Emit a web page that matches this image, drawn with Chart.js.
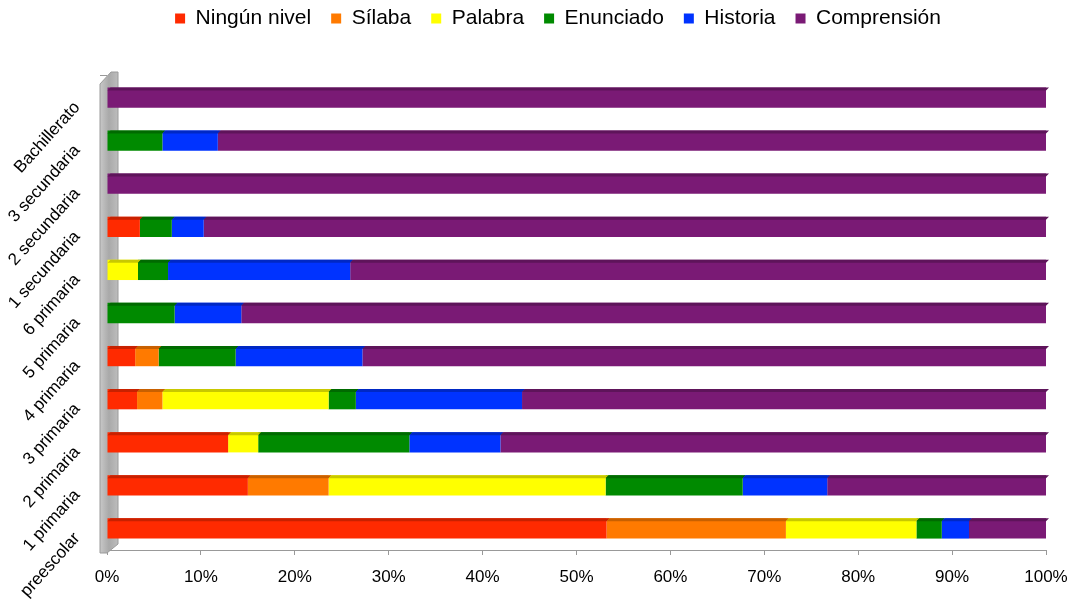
<!DOCTYPE html>
<html>
<head>
<meta charset="utf-8">
<script src="https://cdn.jsdelivr.net/npm/chart.js@4.4.0/dist/chart.umd.min.js"></script>
<style>
  body { margin: 0; background: #fff; }
  #wrap { width: 1071px; height: 604px; }
</style>
</head>
<body>
<div id="wrap"><canvas id="nivelesChart" width="1071" height="604"></canvas></div>
<script>
// categories, bottom to top as in the picture
const grados = ['preescolar', '1 primaria', '2 primaria', '3 primaria', '4 primaria', '5 primaria',
  '6 primaria', '1 secundaria', '2 secundaria', '3 secundaria', 'Bachillerato'];

const ningunNivel = [53.2, 15.0, 12.9, 3.2, 3.0, 0, 0, 3.5, 0, 0, 0];
const silaba      = [19.1, 8.6, 0, 2.7, 2.5, 0, 0, 0, 0, 0, 0];
const palabra     = [13.9, 29.5, 3.2, 17.7, 0, 0, 3.3, 0, 0, 0, 0];
const enunciado   = [2.7, 14.6, 16.1, 2.9, 8.2, 7.2, 3.2, 3.4, 0, 5.9, 0];
const historia    = [2.9, 9.0, 9.7, 17.7, 13.5, 7.1, 19.4, 3.4, 0, 5.9, 0];
const comprension = [8.2, 23.3, 58.1, 55.8, 72.8, 85.7, 74.1, 89.7, 100, 88.2, 100];

const xTicks = [0, 10, 20, 30, 40, 50, 60, 70, 80, 90, 100];

function serie(label, data, color, top, radius) {
  return {
    label: label,
    data: data,
    backgroundColor: color,
    topColor: top,
    borderWidth: 0,
    borderRadius: radius || 0,
    borderSkipped: false,
    barPercentage: 0.47,
    categoryPercentage: 1
  };
}

// grey side wall + darker top strip on each bar (the 3D look)
const wall3d = {
  id: 'wall3d',
  beforeDatasetsDraw(chart) {
    const ctx = chart.ctx, a = chart.chartArea;
    ctx.save();
    const g = ctx.createLinearGradient(a.left - 7, 0, a.left + 11, 0);
    g.addColorStop(0, '#c8c8c8');
    g.addColorStop(0.5, '#a9a9a9');
    g.addColorStop(1, '#bdbdbd');
    ctx.fillStyle = g;
    ctx.beginPath();
    ctx.moveTo(a.left - 7, a.top + 8);
    ctx.lineTo(a.left + 4, a.top - 4);
    ctx.lineTo(a.left + 11, a.top - 4);
    ctx.lineTo(a.left + 11, a.bottom - 6);
    ctx.lineTo(a.left, a.bottom + 3);
    ctx.lineTo(a.left - 7, a.bottom + 3);
    ctx.closePath();
    ctx.fill();
    ctx.strokeStyle = '#9a9a9a';
    ctx.lineWidth = 1;
    ctx.stroke();
    ctx.restore();
  },
  afterDatasetsDraw(chart) {
    const ctx = chart.ctx;
    ctx.save();
    chart.data.datasets.forEach((ds, i) => {
      const meta = chart.getDatasetMeta(i);
      meta.data.forEach((bar) => {
        const w = bar.x - bar.base;
        if (w <= 0.5) return;
        const top = bar.y - bar.height / 2;
        ctx.fillStyle = ds.topColor;
        ctx.beginPath();
        ctx.moveTo(bar.base, top + 3);
        ctx.lineTo(bar.base + 3, top);
        ctx.lineTo(bar.x + 3, top);
        ctx.lineTo(bar.x, top + 3);
        ctx.closePath();
        ctx.fill();
      });
    });
    ctx.restore();
  }
};

// legend taller (gap above the plot), drawn a bit higher and shifted right like the original
const legendPlace = {
  id: 'legendPlace',
  beforeInit(chart) {
    const fit = chart.legend.fit;
    chart.legend.fit = function () {
      fit.bind(chart.legend)();
      this.height = 76;
    };
  },
  afterLayout(chart) {
    chart.legend.left += 35;
    chart.legend.right += 35;
    chart.legend.top -= 12;
    chart.legend.bottom -= 12;
  }
};

const config = {
  type: 'bar',
  data: {
    labels: grados,
    datasets: [
      serie('Ningún nivel', ningunNivel, '#ff2a00', '#c82100'),
      serie('Sílaba', silaba, '#ff7a00', '#c86000', 6),
      serie('Palabra', palabra, '#ffff00', '#c8c800'),
      serie('Enunciado', enunciado, '#008a00', '#006a00'),
      serie('Historia', historia, '#0033ff', '#0028c4'),
      serie('Comprensión', comprension, '#7a1a75', '#5e145a')
    ]
  },
  options: {
    indexAxis: 'y',
    responsive: false,
    animation: false,
    layout: { padding: { top: 0, right: 25, bottom: 16, left: 0 } },
    plugins: {
      legend: {
        position: 'top',
        labels: {
          boxWidth: 10,
          boxHeight: 10,
          padding: 20,
          color: '#000',
          font: { family: 'Liberation Sans', size: 21 }
        }
      },
      tooltip: { enabled: false }
    },
    scales: {
      x: {
        stacked: true,
        min: 0,
        max: 100,
        afterBuildTicks(scale) {
          scale.ticks = xTicks.map(v => ({ value: v }));
        },
        afterFit(scale) {
          scale.height = 38;
          scale.paddingLeft = 0;
          scale.paddingRight = 0;
        },
        ticks: {
          callback: v => v + '%',
          color: '#000',
          padding: 12,
          font: { family: 'Liberation Sans', size: 17 }
        },
        grid: { drawOnChartArea: false, tickLength: 5, color: '#999' },
        border: { display: true, color: '#999' }
      },
      y: {
        stacked: true,
        reverse: true,
        afterFit(scale) {
          scale.width = 107;
          scale.paddingTop = 0;
          scale.paddingBottom = 0;
        },
        ticks: {
          minRotation: 48,
          maxRotation: 48,
          labelOffset: 7,
          color: '#000',
          padding: 23,
          font: { family: 'Liberation Sans', size: 17 }
        },
        grid: { drawOnChartArea: false, offset: true, tickLength: 7, color: '#999' },
        border: { display: false }
      }
    }
  },
  plugins: [wall3d, legendPlace]
};

const nivelesChart = new Chart(document.getElementById('nivelesChart'), config);
</script>
</body>
</html>
